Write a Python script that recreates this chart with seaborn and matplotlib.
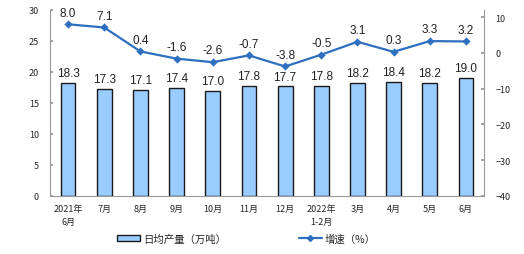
import matplotlib
matplotlib.use("Agg")
import matplotlib.pyplot as plt
import seaborn as sns
import pandas as pd
from matplotlib.patches import Patch
from matplotlib.lines import Line2D

categories = ["2021年\n6月", "7月", "8月", "9月", "10月", "11月", "12月",
              "2022年\n1-2月", "3月", "4月", "5月", "6月"]
output = [18.3, 17.3, 17.1, 17.4, 17.0, 17.8, 17.7, 17.8, 18.2, 18.4, 18.2, 19.0]
growth = [8.0, 7.1, 0.4, -1.6, -2.6, -0.7, -3.8, -0.5, 3.1, 0.3, 3.3, 3.2]
left_ticks = [0, 5, 10, 15, 20, 25, 30]
right_ticks = [-40, -30, -20, -10, 0, 10]

sns.set_theme(style="white")
plt.rcParams['font.family'] = ['Noto Sans CJK SC', 'DejaVu Sans']

df = pd.DataFrame({"cat": categories, "output": output, "growth": growth})

fig = plt.figure(figsize=(5.24, 2.55), dpi=100)
ax = fig.add_axes([0.0954, 0.2275, 0.8283, 0.7295])

bar_color = "#99CCFF"
line_color = "#2E6FC0"

sns.barplot(data=df, x="cat", y="output", ax=ax, color=bar_color,
            edgecolor="#1a1a1a", linewidth=1.0, width=0.41, saturation=1)
ax.set_xlim(-0.5, len(categories) - 0.5)
ax.set_ylim(0, 30)
ax.set_yticks(left_ticks)
ax.set_xlabel("")
ax.set_ylabel("")

for i, v in enumerate(output):
    ax.text(i, v + 0.6, f"{v:.1f}", ha="center", va="bottom", fontsize=8.5,
            family="Liberation Sans", color="#222222")

ax2 = ax.twinx()
sns.pointplot(data=df, x="cat", y="growth", ax=ax2, color=line_color,
              markers="D", markersize=3, linewidth=1.6)
ax2.set_ylim(-40, 12)
ax2.set_yticks(right_ticks)
ax2.set_xlim(-0.5, len(categories) - 0.5)
ax2.set_ylabel("")
ax2.set_xlabel("")
for i, v in enumerate(growth):
    ax2.text(i, v + 1.6, f"{v:.1f}", ha="center", va="bottom", fontsize=8.5,
             family="Liberation Sans", color="#222222")

for a in (ax, ax2):
    for s in a.spines.values():
        s.set_visible(False)
ax.spines["left"].set_visible(True)
ax.spines["bottom"].set_visible(True)
ax2.spines["right"].set_visible(True)
for s in (ax.spines["left"], ax.spines["bottom"], ax2.spines["right"]):
    s.set_color("#999999")
    s.set_linewidth(0.8)

ax.set_xticks(range(len(categories)))
ax.set_xticklabels(categories, fontsize=6.5, linespacing=1.5)
ax.tick_params(axis="x", length=0, pad=6)
ax.set_xticks([i + 0.5 for i in range(-1, len(categories))], minor=True)
ax.tick_params(axis="x", which="minor", length=2, color="#999999", direction="in")
ax.tick_params(axis="y", labelsize=6.5, length=2.5, color="#999999", direction="in", left=True, pad=8)
ax2.tick_params(axis="y", labelsize=6.5, length=2.5, color="#999999", direction="in", right=True, pad=8)

handles = [Patch(facecolor=bar_color, edgecolor="#1a1a1a", linewidth=1.0),
           Line2D([0], [0], color=line_color, lw=1.6, marker="D", markersize=3)]
fig.legend(handles, ["日均产量（万吨）", "增速（%）"], loc="center",
           bbox_to_anchor=(0.47, 0.06), ncol=2, frameon=False, fontsize=7.5,
           handlelength=2.2, handleheight=0.6, handletextpad=0.3, columnspacing=7)

fig.savefig("out.png", dpi=100)
